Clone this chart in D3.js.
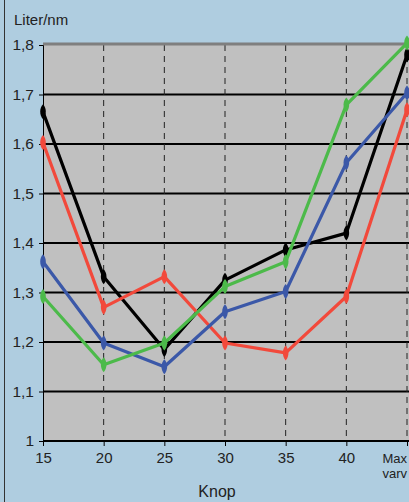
<!DOCTYPE html>
<html>
<head>
<meta charset="utf-8">
<script src="https://cdn.jsdelivr.net/npm/d3@7"></script>
<style>
  body { margin: 0; background: #afcde0; overflow: hidden; }
  svg { display: block; }
</style>
</head>
<body>
<script>
const svgWidth = 409
const svgHeight = 502

const margin = { top: 45, right: 1, bottom: 61, left: 43 }

const chartWidth = svgWidth - margin.left - margin.right
const chartHeight = svgHeight - margin.top - margin.bottom

// data
const categories = ["15", "20", "25", "30", "35", "40", "Max"]
const yTicks = [1, 1.1, 1.2, 1.3, 1.4, 1.5, 1.6, 1.7, 1.8]

const black = [1.665, 1.332, 1.185, 1.325, 1.386, 1.42, 1.78]
const red = [1.603, 1.27, 1.332, 1.198, 1.178, 1.292, 1.669]
const blue = [1.362, 1.198, 1.15, 1.261, 1.302, 1.562, 1.703]
const green = [1.292, 1.154, 1.198, 1.312, 1.362, 1.679, 1.804]

const series = [
  { values: black, color: "#000000" },
  { values: red, color: "#f2493b" },
  { values: blue, color: "#3b58a8" },
  { values: green, color: "#4cba4a" }
]

const svg = d3.select("body").append("svg")
  .attr("width", svgWidth)
  .attr("height", svgHeight)

// dark line on the left edge
svg.append("line")
  .attr("x1", 4.5).attr("x2", 4.5)
  .attr("y1", 0).attr("y2", svgHeight)
  .attr("stroke", "#333")
  .attr("stroke-width", 1)

const chartG = svg.append("g")
  .attr("transform", `translate(${margin.left}, ${margin.top})`)

const x = d3.scalePoint()
  .domain(categories)
  .range([0, chartWidth - 1])

const y = d3.scaleLinear()
  .domain([1, 1.8])
  .range([chartHeight, 0])

chartG.append("rect")
  .attr("width", chartWidth + 10)
  .attr("height", chartHeight)
  .attr("fill", "#c0c0c0")

// horizontal grid
chartG.append("g")
  .selectAll("line")
  .data(yTicks.filter(t => t > 1 && t < 1.8))
  .join("line")
  .attr("x1", 0).attr("x2", chartWidth + 10)
  .attr("y1", d => y(d)).attr("y2", d => y(d))
  .attr("stroke", "#000")
  .attr("stroke-width", 2)

// vertical dashed grid
chartG.append("g")
  .selectAll("line")
  .data(categories.slice(1))
  .join("line")
  .attr("x1", d => x(d)).attr("x2", d => x(d))
  .attr("y1", 0).attr("y2", chartHeight)
  .attr("stroke", "#222")
  .attr("stroke-width", 1)
  .attr("stroke-dasharray", "6,5")

// top border
chartG.append("line")
  .attr("x1", 0).attr("x2", chartWidth + 10)
  .attr("y1", -1).attr("y2", -1)
  .attr("stroke", "#7f7f7f")
  .attr("stroke-width", 3)

const font = "'Liberation Sans', Arial, sans-serif"
const narrow = "'Liberation Sans Narrow', 'Arial Narrow', 'Liberation Sans', sans-serif"

const yAxis = chartG.append("g")
  .call(d3.axisLeft(y).tickValues(yTicks).tickSize(4).tickPadding(5)
    .tickFormat(d => d3.format(".1f")(d).replace(".", ",").replace(",0", "")))
yAxis.select(".domain").attr("stroke", "#000")
yAxis.selectAll("text")
  .attr("font-family", font)
  .attr("font-size", 15.5)
  .attr("fill", "#222")

const xAxis = chartG.append("g")
  .attr("transform", `translate(0, ${chartHeight})`)
  .call(d3.axisBottom(x).tickSize(5).tickPadding(6))
xAxis.select(".domain").attr("stroke", "#000").attr("stroke-width", 2).attr("d", `M0,0H${chartWidth + 10}`)
xAxis.selectAll("text")
  .attr("font-family", narrow)
  .attr("font-size", 15)
  .attr("fill", "#222")
xAxis.selectAll(".tick").filter(d => d === "Max").select("text").remove()
xAxis.selectAll(".tick").filter(d => d === "Max").append("text")
  .attr("font-family", narrow)
  .attr("font-size", 13)
  .attr("fill", "#222")
  .attr("text-anchor", "start")
  .attr("y", 22)
  .selectAll("tspan")
  .data(["Max", "varv"])
  .join("tspan")
  .attr("x", -25)
  .attr("dy", (d, i) => i ? 15 : 0)
  .text(d => d)

const line = d3.line()
  .x((d, i) => x(categories[i]))
  .y(d => y(d))

// elongated vertical marker
const marker = "M0,-7.5 C3.5,-4 4,3 0,7.5 C-4,3 -3.5,-4 0,-7.5 Z"

series.forEach(s => {
  chartG.append("path")
    .attr("d", line(s.values))
    .attr("fill", "none")
    .attr("stroke", s.color)
    .attr("stroke-width", 3.2)
    .attr("stroke-linejoin", "round")

  chartG.append("g")
    .selectAll("path")
    .data(s.values)
    .join("path")
    .attr("transform", (d, i) => `translate(${x(categories[i])}, ${y(d)})`)
    .attr("d", marker)
    .attr("fill", s.color)
})

svg.append("text")
  .attr("x", 14)
  .attr("y", 25)
  .attr("font-family", font)
  .attr("font-size", 15)
  .attr("fill", "#222")
  .text("Liter/nm")

svg.append("text")
  .attr("x", margin.left + x("30") - 8)
  .attr("y", 497)
  .attr("text-anchor", "middle")
  .attr("font-family", font)
  .attr("font-size", 16)
  .attr("fill", "#222")
  .text("Knop")
</script>
</body>
</html>
